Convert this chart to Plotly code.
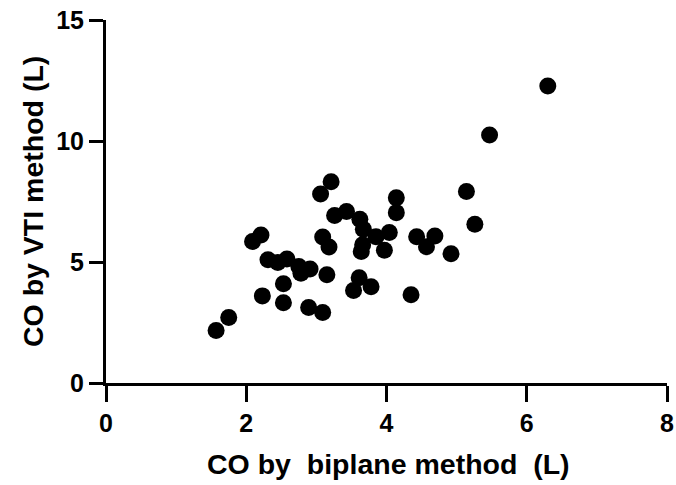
import plotly.graph_objects as go

# CO by biplane method (L)
co_biplane = [1.57, 1.75, 2.09, 2.21, 2.23, 2.31, 2.45, 2.58, 2.53, 2.53,
              2.75, 2.78, 2.91, 2.89, 3.09, 3.15, 3.09, 3.18, 3.06, 3.21,
              3.26, 3.43, 3.62, 3.67, 3.85, 4.04, 3.66, 3.64, 3.97, 3.61,
              3.53, 3.78, 4.14, 4.14, 4.43, 4.69, 4.57, 4.92, 4.35, 5.26,
              5.14, 5.47, 6.30]
# CO by VTI method (L)
co_vti = [2.17, 2.71, 5.85, 6.12, 3.60, 5.09, 4.98, 5.12, 4.10, 3.32,
          4.81, 4.54, 4.71, 3.12, 2.91, 4.47, 6.03, 5.62, 7.81, 8.32,
          6.92, 7.09, 6.77, 6.35, 6.04, 6.22, 5.71, 5.43, 5.49, 4.35,
          3.82, 3.98, 7.65, 7.04, 6.04, 6.07, 5.63, 5.34, 3.65, 6.56,
          7.91, 10.25, 12.27]

x_ticks = [0, 2, 4, 6, 8]
y_ticks = [0, 5, 10, 15]
x_title = "CO by\u00a0 biplane method\u00a0 (L)"
y_title = "CO by VTI method (L)"

font_family = "Liberation Sans, Arial, sans-serif"
title_font = dict(family=font_family, size=28.5, color="black", weight="bold")

fig = go.Figure()
fig.add_trace(go.Scatter(
    x=co_biplane, y=co_vti, mode="markers",
    marker=dict(size=17, color="black", line=dict(width=0)),
    showlegend=False,
))

axis_common = dict(
    showline=True, linecolor="black", linewidth=3,
    ticks="outside", tickcolor="black", tickwidth=3,
    showgrid=False, zeroline=False, automargin=False,
    tickfont=dict(family=font_family, size=25, color="black", weight="bold"),
)

# plot area: x 106..667 px, y 20..383 px
L, R, T, B = 106, 9, 20, 102
W, H = 676, 485
pw, ph = W - L - R, H - T - B

fig.update_layout(
    width=W, height=H,
    margin=dict(l=L, r=R, t=T, b=B),
    paper_bgcolor="white", plot_bgcolor="white",
    xaxis=dict(range=[0, 8], tickvals=x_ticks, ticklen=16, **axis_common),
    yaxis=dict(range=[0, 15], tickvals=y_ticks, ticklen=14, **axis_common),
    annotations=[
        dict(text=x_title, xref="paper", yref="paper",
             x=(388.5 - L) / pw, y=(H - B - 464) / ph,
             xanchor="center", yanchor="middle", showarrow=False,
             font=title_font),
        dict(text=y_title, xref="paper", yref="paper",
             x=(33 - L) / pw, y=(H - B - 202) / ph, textangle=-90,
             xanchor="center", yanchor="middle", showarrow=False,
             font=title_font),
    ],
)

fig.write_html("out.html")
